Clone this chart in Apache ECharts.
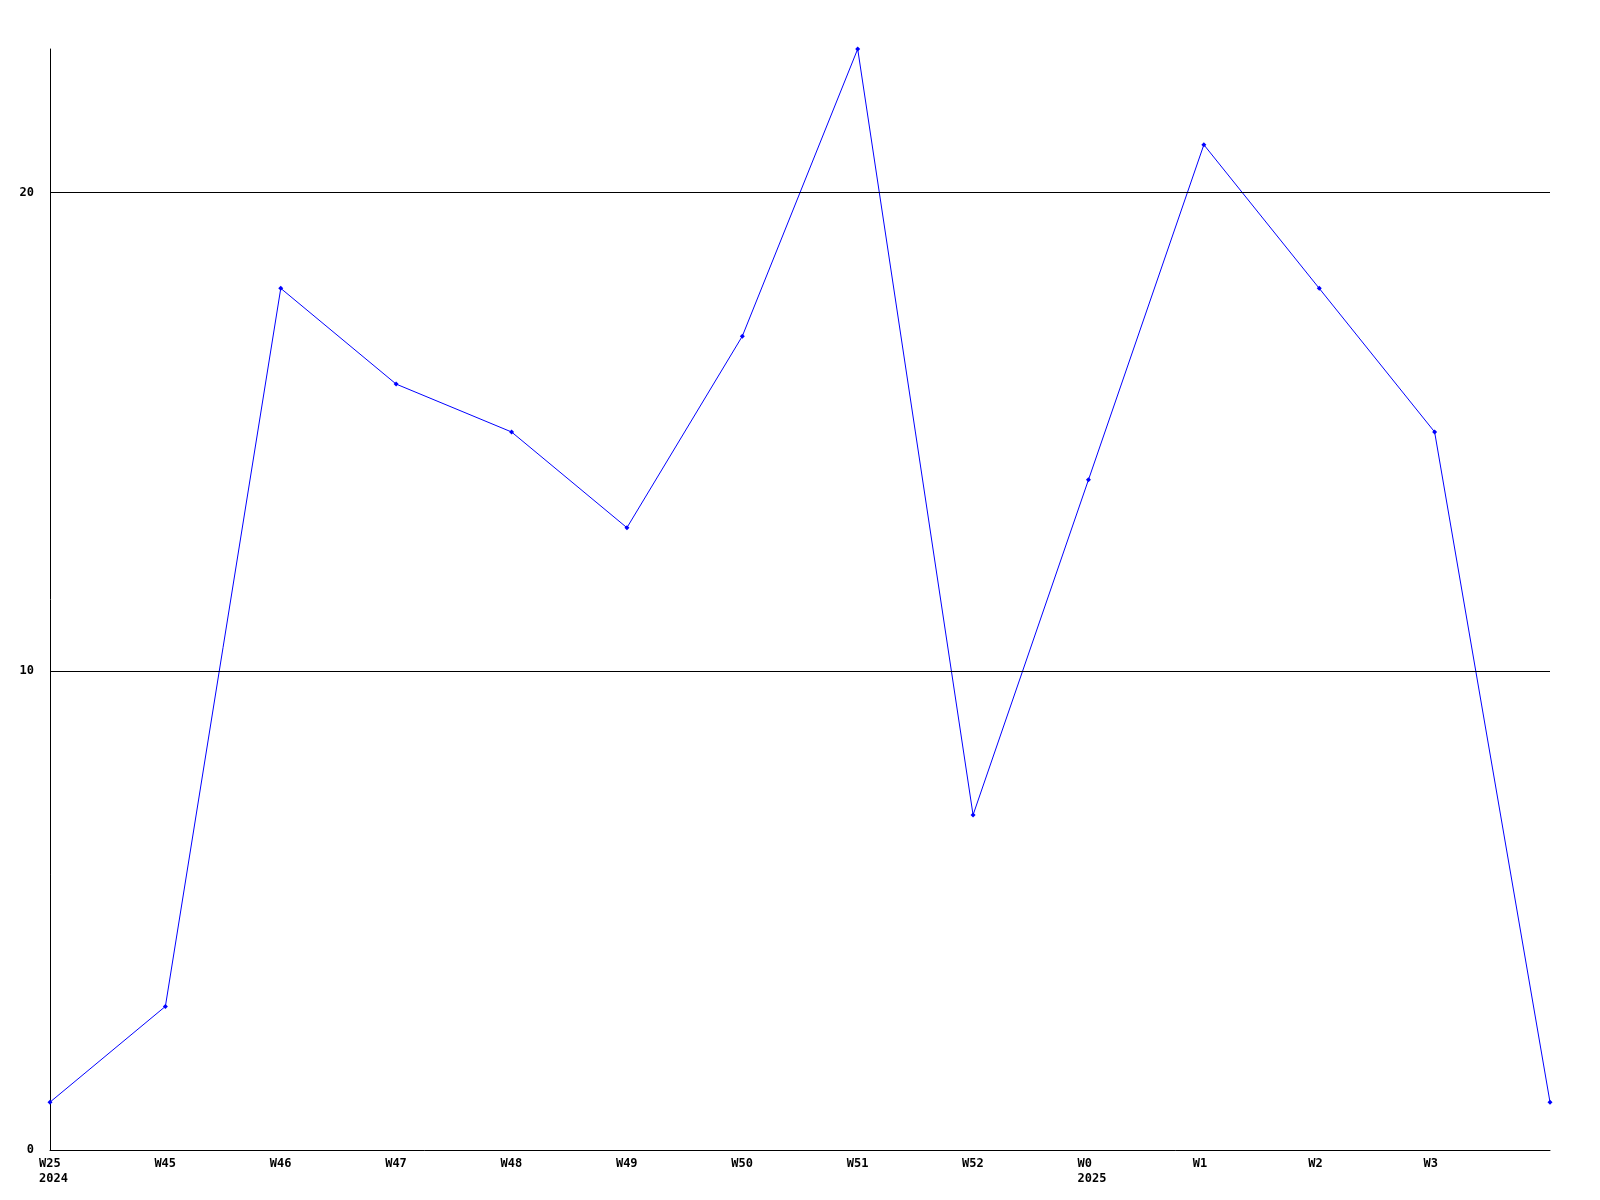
<!DOCTYPE html>
<html><head><meta charset="utf-8">
<script src="https://cdn.jsdelivr.net/npm/echarts@6/dist/echarts.min.js"></script>
<style>html,body{margin:0;padding:0;background:#fff}#c{width:1600px;height:1200px}</style>
</head><body><div id="c"></div>
<script>
const categories = ['W25\n2024','W45','W46','W47','W48','W49','W50','W51','W52','W0\n2025','W1','W2','W3',''];
const values = [1,3,18,16,15,13,17,23,7,14,21,18,15,1];
const gridValues = [10,20];
const font = '"DejaVu Sans Mono", monospace';
const chart = echarts.init(document.getElementById('c'));
chart.setOption({
  animation:false,
  backgroundColor:'#fff',
  grid:{left:50,right:50,top:49,bottom:50},
  xAxis:{type:'category',data:categories,boundaryGap:false,
    axisLine:{lineStyle:{color:'#000',width:1}},axisTick:{show:false},
    axisLabel:{color:'#000',fontFamily:font,fontWeight:'bold',fontSize:12,align:'left',padding:[0,0,0,-11],margin:6,lineHeight:15,interval:0},
    splitLine:{show:false}},
  yAxis:{type:'value',min:0,max:23,interval:10,
    axisLine:{show:true,lineStyle:{color:'#000',width:1}},axisTick:{show:false},
    axisLabel:{color:'#000',fontFamily:font,fontWeight:'bold',fontSize:12,margin:16,showMaxLabel:false,
      formatter:v=>(v%10===0?String(v):'')},
    splitLine:{show:false}},
  series:[{type:'line',data:values,symbol:'diamond',symbolSize:5,showSymbol:true,
    lineStyle:{color:'#0000ff',width:1},itemStyle:{color:'#0000ff'},
    markLine:{silent:true,symbol:'none',label:{show:false},lineStyle:{color:'#000',width:1,type:'solid'},
      data:gridValues.map(v=>({yAxis:v}))}}]
});
</script></body></html>
